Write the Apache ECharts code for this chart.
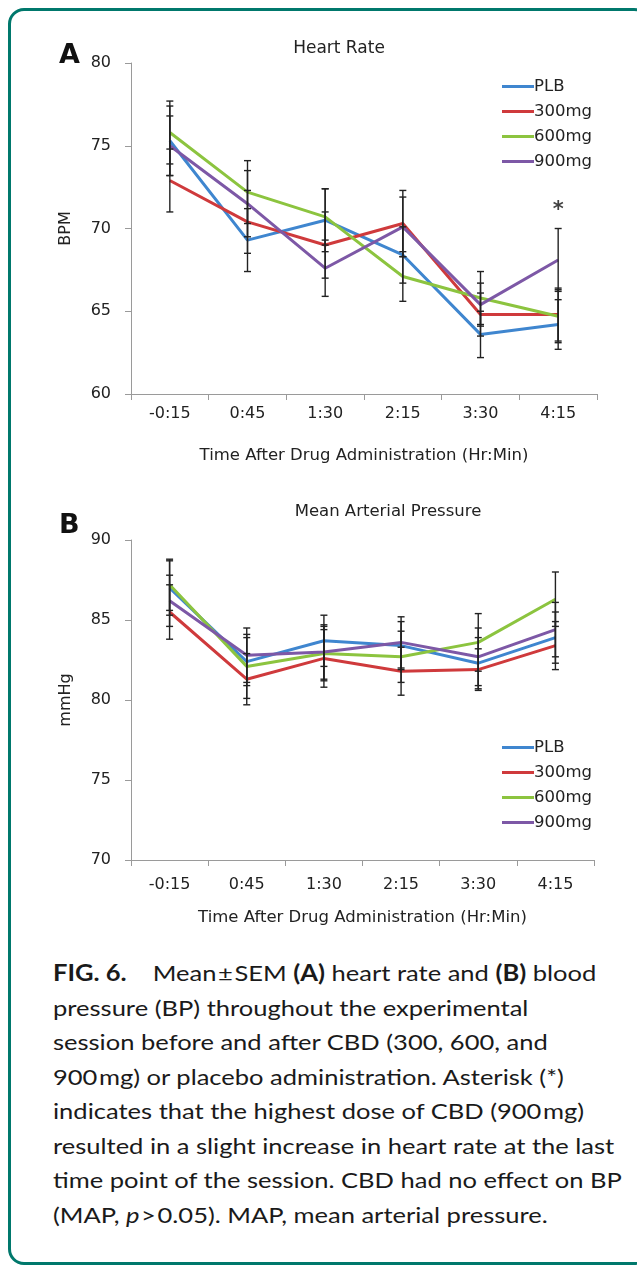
<!DOCTYPE html>
<html>
<head>
<meta charset="utf-8">
<script src="https://cdn.jsdelivr.net/npm/echarts@6/dist/echarts.min.js"></script>
<style>
html,body{margin:0;padding:0;background:#fff;overflow:hidden;width:637px;height:1266px;}
#clip{position:absolute;left:0;top:0;width:637px;height:1266px;overflow:hidden;}
#frame{position:absolute;left:8px;top:8px;width:642px;height:1257px;border:3px solid #00786c;border-radius:16px;box-sizing:border-box;}
#chart{position:absolute;left:0;top:0;width:637px;height:950px;}
#caption{position:absolute;left:53px;top:956px;font-family:Lato,"Open Sans",sans-serif;font-size:22px;line-height:34.5px;color:#1a1a1a;white-space:nowrap;transform:scaleX(1.16);transform-origin:0 0;}
</style>
</head>
<body>
<div id="clip"><div id="frame"></div></div>
<div id="chart"></div>
<div id="caption"><b>FIG. 6.</b>&nbsp;&nbsp;&nbsp; Mean&#8202;±&#8202;SEM <b>(A)</b> heart rate and <b>(B)</b> blood<br>pressure (BP) throughout the experimental<br>session before and after CBD (300, 600, and<br>900&#8202;mg) or placebo administration. Asterisk (*)<br>indicates that the highest dose of CBD (900&#8202;mg)<br>resulted in a slight increase in heart rate at the last<br>time point of the session. CBD had no effect on BP<br>(MAP, <i>p</i>&#8202;&gt;&#8202;0.05). MAP, mean arterial pressure.</div>
<script>
const categories = ['-0:15', '0:45', '1:30', '2:15', '3:30', '4:15'];
const seriesNames = ['PLB', '300mg', '600mg', '900mg'];
const seriesColors = ['#3f86cf', '#cf3a3c', '#8cc43f', '#7d58a6'];

// Panel A: Heart Rate (BPM), mean and SEM
const hrPLB = [75.3, 69.3, 70.5, 68.4, 63.6, 64.2];
const hr300 = [72.9, 70.4, 69.0, 70.3, 64.8, 64.8];
const hr600 = [75.8, 72.2, 70.7, 67.1, 65.8, 64.7];
const hr900 = [75.0, 71.5, 67.6, 70.1, 65.4, 68.1];
const hrErrPLB = [2.1, 1.9, 1.9, 1.7, 1.4, 1.5];
const hrErr300 = [1.9, 1.9, 2.0, 2.0, 1.3, 1.6];
const hrErr600 = [1.9, 1.9, 1.7, 1.5, 1.6, 1.6];
const hrErr900 = [1.8, 2.0, 1.7, 1.8, 1.3, 1.9];

// Panel B: Mean Arterial Pressure (mmHg), mean and SEM
const mapPLB = [87.0, 82.4, 83.7, 83.4, 82.3, 83.9];
const map300 = [85.5, 81.3, 82.6, 81.8, 81.9, 83.4];
const map600 = [87.2, 82.1, 82.9, 82.7, 83.6, 86.3];
const map900 = [86.2, 82.8, 83.0, 83.6, 82.7, 84.4];
const mapErrPLB = [1.7, 1.5, 1.6, 1.5, 1.6, 1.6];
const mapErr300 = [1.7, 1.6, 1.8, 1.5, 1.3, 1.5];
const mapErr600 = [1.6, 2.0, 1.7, 1.6, 1.8, 1.7];
const mapErr900 = [1.6, 1.7, 1.7, 1.6, 1.8, 1.7];

const hrTicks = [60, 65, 70, 75, 80];
const mapTicks = [70, 75, 80, 85, 90];
const asteriskAt = {category: '4:15', value: 71.1};

const FONT = '"DejaVu Sans", "Liberation Sans", Arial, sans-serif';
const TXT = '#222';

const chart = echarts.init(document.getElementById('chart'), null, {renderer: 'canvas'});

function axisX(gridIndex, nameGap, labelMargin) {
  return {
    type: 'category', gridIndex: gridIndex, data: categories, boundaryGap: true,
    axisLine: {lineStyle: {color: '#9a9a9a', width: 1}},
    axisTick: {show: true, length: 6, inside: false, lineStyle: {color: '#9a9a9a'}},
    axisLabel: {color: TXT, fontFamily: FONT, fontSize: 16, margin: labelMargin},
    name: 'Time After Drug Administration (Hr:Min)', nameLocation: 'middle', nameGap: nameGap,
    nameTextStyle: {color: TXT, fontFamily: FONT, fontSize: 16.5},
    splitLine: {show: false}
  };
}
function axisY(gridIndex, ticks, name) {
  return {
    type: 'value', gridIndex: gridIndex, min: ticks[0], max: ticks[ticks.length - 1], interval: ticks[1] - ticks[0],
    axisLine: {show: true, lineStyle: {color: '#9a9a9a', width: 1}},
    axisTick: {show: true, length: 6, lineStyle: {color: '#9a9a9a'}},
    axisLabel: {color: TXT, fontFamily: FONT, fontSize: 16, margin: 20},
    splitLine: {show: false},
    name: name, nameLocation: 'middle', nameGap: 57, nameRotate: 90,
    nameTextStyle: {color: TXT, fontFamily: FONT, fontSize: 16}
  };
}

function lineSeries(name, data, color, axisIdx) {
  return {
    name: name, type: 'line', data: data, xAxisIndex: axisIdx, yAxisIndex: axisIdx,
    symbol: 'none', lineStyle: {color: color, width: 3}, itemStyle: {color: color},
    z: 2, animation: false
  };
}
function errSeries(name, means, errs, axisIdx) {
  const data = means.map((m, i) => [i, m, errs[i]]);
  return {
    name: name, type: 'custom', xAxisIndex: axisIdx, yAxisIndex: axisIdx, data: data, z: 5,
    animation: false, silent: true,
    renderItem: function (params, api) {
      const x = api.value(0), m = api.value(1), e = api.value(2);
      const hi = api.coord([x, m + e]);
      const lo = api.coord([x, m - e]);
      const cw = 3.5;
      const st = {stroke: '#222', lineWidth: 1.4};
      return {
        type: 'group',
        children: [
          {type: 'line', shape: {x1: hi[0], y1: hi[1], x2: lo[0], y2: lo[1]}, style: st},
          {type: 'line', shape: {x1: hi[0] - cw, y1: hi[1], x2: hi[0] + cw, y2: hi[1]}, style: st},
          {type: 'line', shape: {x1: lo[0] - cw, y1: lo[1], x2: lo[0] + cw, y2: lo[1]}, style: st}
        ]
      };
    },
    encode: {x: 0, y: 1}
  };
}

const hrMeans = [hrPLB, hr300, hr600, hr900];
const hrErrs = [hrErrPLB, hrErr300, hrErr600, hrErr900];
const mapMeans = [mapPLB, map300, map600, map900];
const mapErrs = [mapErrPLB, mapErr300, mapErr600, mapErr900];

const series = [];
for (let k = 0; k < 4; k++) series.push(lineSeries(seriesNames[k], hrMeans[k], seriesColors[k], 0));
for (let k = 0; k < 4; k++) series.push(lineSeries(seriesNames[k], mapMeans[k], seriesColors[k], 1));
for (let k = 0; k < 4; k++) series.push(errSeries(seriesNames[k], hrMeans[k], hrErrs[k], 0));
for (let k = 0; k < 4; k++) series.push(errSeries(seriesNames[k], mapMeans[k], mapErrs[k], 1));
// asterisk annotation
series.push({
  type: 'scatter', xAxisIndex: 0, yAxisIndex: 0, symbolSize: 0, silent: true, animation: false,
  data: [[asteriskAt.category, asteriskAt.value]],
  label: {show: true, formatter: '*', position: 'inside', color: '#111', fontFamily: FONT, fontSize: 21, fontWeight: 'bold'}
});

function legend(top) {
  return {
    data: seriesNames, orient: 'vertical', left: 497, top: top,
    icon: 'rect', itemWidth: 32, itemHeight: 3, itemGap: 8,
    textStyle: {color: TXT, fontFamily: FONT, fontSize: 16.5, lineHeight: 17, padding: [0, 0, 0, -5]},
    selectedMode: false
  };
}

chart.setOption({
  animation: false,
  backgroundColor: 'transparent',
  title: [
    {text: 'Heart Rate', left: 334, top: 35, textAlign: 'center', textStyle: {color: TXT, fontFamily: FONT, fontSize: 17, fontWeight: 'normal'}},
    {text: 'Mean Arterial Pressure', left: 383, top: 498, textAlign: 'center', textStyle: {color: TXT, fontFamily: FONT, fontSize: 16.5, fontWeight: 'normal'}},
    {text: 'A', left: 54, top: 37, textStyle: {color: '#111', fontFamily: FONT, fontSize: 27, fontWeight: 'bold'}},
    {text: 'B', left: 54, top: 507, textStyle: {color: '#111', fontFamily: FONT, fontSize: 27, fontWeight: 'bold'}}
  ],
  legend: [legend(73), legend(734)],
  grid: [
    {left: 131, top: 63, width: 466, height: 331},
    {left: 131, top: 540, width: 463, height: 320}
  ],
  xAxis: [axisX(0, 53, 12), axisX(1, 49, 17)],
  yAxis: [axisY(0, hrTicks, 'BPM'), axisY(1, mapTicks, 'mmHg')],
  series: series
});
</script>
</body>
</html>
